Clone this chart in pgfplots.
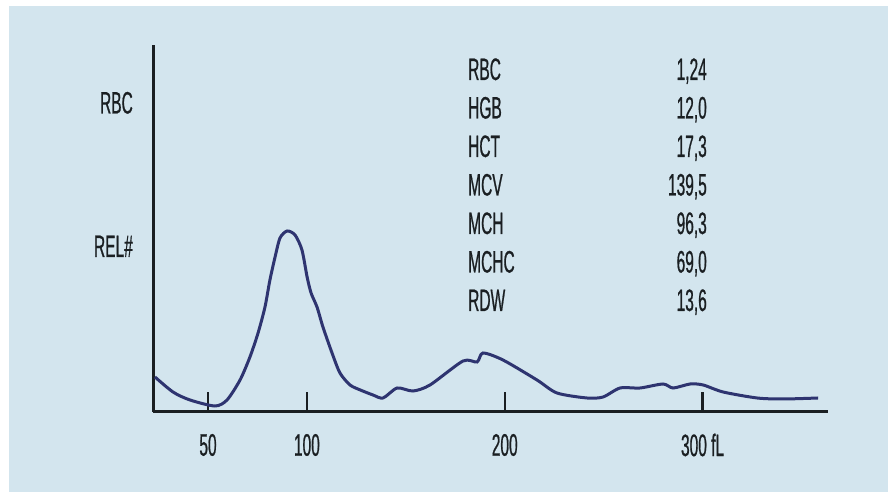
\documentclass[border=0pt]{standalone}
\usepackage{fontspec}
\setmainfont{Liberation Sans}[FakeStretch=0.5, FakeBold=0.6]
\usepackage{pgfplots}
\pgfplotsset{compat=1.18}
\definecolor{bgblue}{HTML}{D3E5EE}
\definecolor{curvec}{HTML}{2E3470}
\definecolor{axisc}{HTML}{1A1F22}
\newcommand\f{\fontsize{31bp}{34bp}\selectfont}
\begin{document}
\begin{tikzpicture}[x=1bp,y=1bp]
\fill[white] (0,0) rectangle (888,492);
\fill[bgblue] (9,0) rectangle (888,486);
\begin{axis}[
  at={(153bp,80bp)}, anchor=south west,
  scale only axis, width=675bp, height=367bp,
  xmin=22.2, xmax=363.4, ymin=0, ymax=367,
  axis lines=left,
  axis line style={-, line width=3bp, color=axisc},
  xtick={50,100,200,300},
  xticklabels={50,100,200,300 fL},
  ytick=\empty,
  tick align=inside,
  major tick length=20bp,
  tick style={line width=2.5bp, color=axisc},
  xticklabel style={font=\f, text=axisc, anchor=center, inner sep=0pt, yshift=-33bp},
  clip=false,
]
\addplot[curvec, line width=3bp, smooth, tension=0.45] coordinates {
(23.2,35) (32.3,20) (40.9,12) (53.5,6) (59.6,12) (66.2,32) (71.2,55) (75.3,79)
(78.8,105) (81.3,132) (83.9,155) (86.4,174) (90,181) (94,177) (97.5,162)
(100.1,135) (102.1,119) (105.1,105) (108.1,85) (112.7,59) (116.7,39) (121.8,27)
(127,22) (133.4,17) (138.5,14) (145.6,24) (153.6,21)
(162.2,27) (178.9,51) (186,50) (189,59) (199.1,52) (216.3,32) (226.4,19)
(241.6,14) (249.7,15) (258.3,24) (268.4,24) (280,28) (285.1,24) (293.7,28)
(300.3,27) (310.4,20) (327.6,14) (340.7,13) (358.4,14)
};
\end{axis}
\begin{scope}[every node/.style={font=\f, text=axisc, inner sep=0pt}]
\node[anchor=base east] at (133,378.5) {RBC};
\node[anchor=base east] at (133,235) {REL\#};
\node[anchor=base west] at (468,412) {RBC};
\node[anchor=base west] at (468,373.5) {HGB};
\node[anchor=base west] at (468,335) {HCT};
\node[anchor=base west] at (468,296.5) {MCV};
\node[anchor=base west] at (468,258) {MCH};
\node[anchor=base west] at (468,219.5) {MCHC};
\node[anchor=base west] at (468,181) {RDW};
\node[anchor=base east] at (707,412) {1,24};
\node[anchor=base east] at (707,373.5) {12,0};
\node[anchor=base east] at (707,335) {17,3};
\node[anchor=base east] at (707,296.5) {139,5};
\node[anchor=base east] at (707,258) {96,3};
\node[anchor=base east] at (707,219.5) {69,0};
\node[anchor=base east] at (707,181) {13,6};
\end{scope}
\end{tikzpicture}
\end{document}
